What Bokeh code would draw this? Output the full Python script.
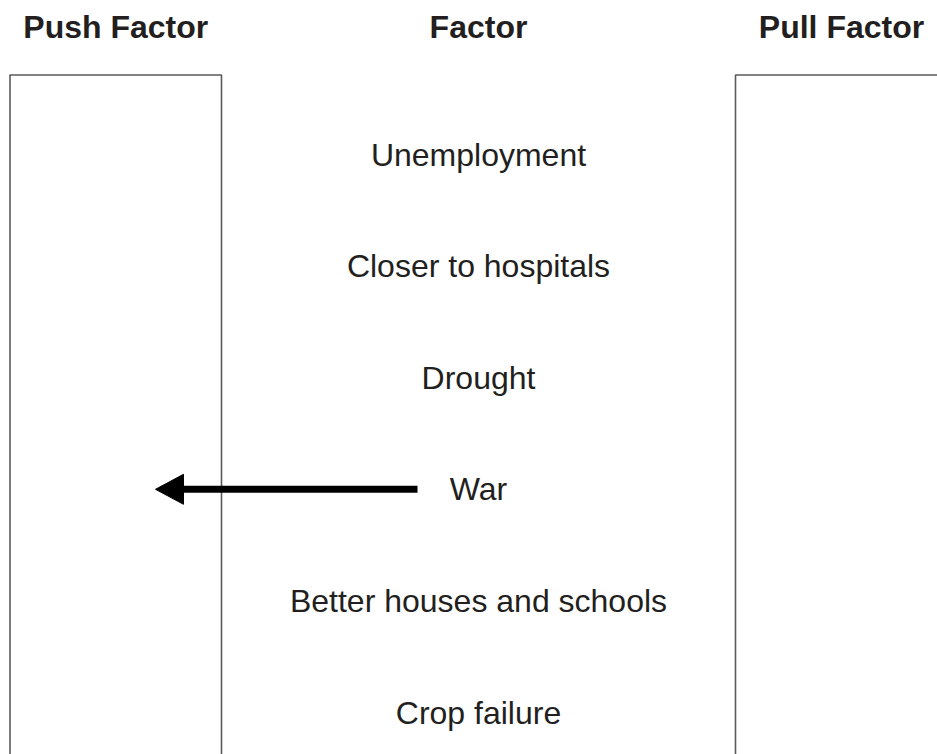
from bokeh.plotting import figure
from bokeh.models import Range1d, ColumnDataSource
from bokeh.core.properties import value
from bokeh.embed import file_html
from bokeh.resources import INLINE

# ---- data ----
headers = ["Push Factor", "Factor", "Pull Factor"]
factors = ["Unemployment", "Closer to hospitals", "Drought", "War",
           "Better houses and schools", "Crop failure"]
# answer already given in the example: which side each factor points to
answers = [None, None, None, "Push", None, None]

# ---- layout (pixels, origin at top-left of the canvas) ----
W, H = 937, 754
push_l, push_r = 9.5, 221
pull_l, pull_r = 735, 947
box_top, box_bot = 74.5, 770
mid_x = (push_r + pull_l) / 2
header_y = 26
row0, row_step = 154, 111.6
col_x = {"Push Factor": (push_l + push_r) / 2, "Factor": mid_x,
         "Pull Factor": (pull_l + pull_r) / 2}

p = figure(width=W, height=H, x_range=Range1d(0, W), y_range=Range1d(H, 0),
           output_backend="svg", toolbar_location=None, min_border=0)
p.axis.visible = False
p.grid.visible = False
p.outline_line_color = None
p.background_fill_color = "white"

ink = "#231f20"
box_col = "#5a5a5a"

# boxes
for l, r in [(push_l, push_r), (pull_l, pull_r)]:
    p.line([l, l, r, r], [box_bot, box_top, box_top, box_bot],
           line_color=box_col, line_width=1.6)

# headers
hs = ColumnDataSource(dict(x=[col_x[h] for h in headers], y=[header_y] * 3, t=headers))
p.text("x", "y", text="t", source=hs, text_align="center", text_baseline="middle",
       text_font=value("Liberation Sans"), text_font_style="bold",
       text_font_size="32px", text_color=ink)

# factors
ys = [row0 + i * row_step for i in range(len(factors))]
fs = ColumnDataSource(dict(x=[mid_x] * len(factors), y=ys, t=factors))
p.text("x", "y", text="t", source=fs, text_align="center", text_baseline="middle",
       text_font=value("Liberation Sans"), text_font_size="32px", text_color=ink)

# arrows for answered factors
for y, a in zip(ys, answers):
    if a == "Push":
        tail, tip = 417, 155
        head_len, head_half = 28, 15
        p.segment(x0=[tail], y0=[y], x1=[tip + head_len - 2], y1=[y],
                  line_color="black", line_width=7, line_cap="butt")
        p.patch([tip, tip + head_len, tip + head_len],
                [y, y - head_half, y + head_half],
                fill_color="black", line_color="black", line_width=1)

open("out.html", "w").write(file_html(p, INLINE))
